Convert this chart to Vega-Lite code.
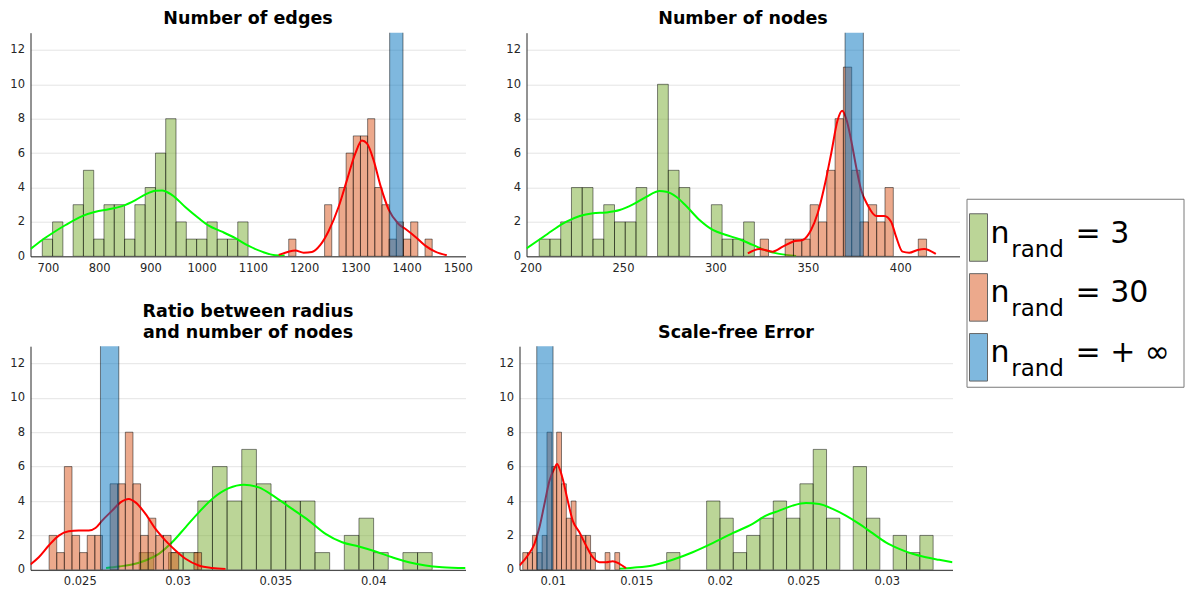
{
 "$schema": "https://vega.github.io/schema/vega-lite/v6.json",
 "background": "white",
 "padding": {"left": 9.5, "top": 9.5, "right": 0, "bottom": 0},
 "config": {
  "font": "DejaVu Sans",
  "view": {"stroke": null},
  "axis": {"labelFont": "DejaVu Sans", "labelFontSize": 11.5, "labelColor": "#262626", "domainColor": "#262626", "domainWidth": 1, "ticks": false, "grid": false, "labelPadding": 6, "gridColor": "#e4e4e4", "labelOverlap": false, "labelExpr": "'' + datum.value"},
  "title": {"font": "DejaVu Sans", "fontSize": 17.5, "fontWeight": "bold", "color": "#000", "offset": 5, "frame": "group", "lineHeight": 21}
 },
 "datasets": {
  "bars": [
   {"p":"edges","s":"3","a":689.0,"b":709.1,"n":1},{"p":"edges","s":"3","a":709.1,"b":729.2,"n":2},{"p":"edges","s":"3","a":749.2,"b":769.3,"n":3},{"p":"edges","s":"3","a":769.3,"b":789.4,"n":5},{"p":"edges","s":"3","a":789.4,"b":809.4,"n":1},{"p":"edges","s":"3","a":809.4,"b":829.5,"n":3},{"p":"edges","s":"3","a":829.5,"b":849.6,"n":3},{"p":"edges","s":"3","a":849.6,"b":869.7,"n":1},{"p":"edges","s":"3","a":869.7,"b":889.8,"n":3},{"p":"edges","s":"3","a":889.8,"b":909.9,"n":4},{"p":"edges","s":"3","a":909.9,"b":929.9,"n":6},{"p":"edges","s":"3","a":929.9,"b":950.0,"n":8},{"p":"edges","s":"3","a":950.0,"b":970.1,"n":2},{"p":"edges","s":"3","a":970.1,"b":990.2,"n":1},{"p":"edges","s":"3","a":990.2,"b":1010.3,"n":1},{"p":"edges","s":"3","a":1010.3,"b":1030.4,"n":2},{"p":"edges","s":"3","a":1030.4,"b":1050.4,"n":1},{"p":"edges","s":"3","a":1050.4,"b":1070.5,"n":1},{"p":"edges","s":"3","a":1070.5,"b":1090.6,"n":2},
   {"p":"edges","s":"30","a":1170,"b":1184,"n":1},{"p":"edges","s":"30","a":1240,"b":1254,"n":3},{"p":"edges","s":"30","a":1268,"b":1282,"n":4},{"p":"edges","s":"30","a":1282,"b":1296,"n":6},{"p":"edges","s":"30","a":1296,"b":1310,"n":7},{"p":"edges","s":"30","a":1310,"b":1324,"n":7},{"p":"edges","s":"30","a":1324,"b":1338,"n":8},{"p":"edges","s":"30","a":1338,"b":1352,"n":4},{"p":"edges","s":"30","a":1352,"b":1366,"n":3},{"p":"edges","s":"30","a":1366,"b":1380,"n":1},{"p":"edges","s":"30","a":1380,"b":1394,"n":2},{"p":"edges","s":"30","a":1394,"b":1408,"n":1},{"p":"edges","s":"30","a":1408,"b":1422,"n":2},{"p":"edges","s":"30","a":1436,"b":1450,"n":1},
   {"p":"edges","s":"inf","a":1367,"b":1393,"n":50},
   {"p":"nodes","s":"3","a":204.66,"b":210.48,"n":1},{"p":"nodes","s":"3","a":210.48,"b":216.30,"n":1},{"p":"nodes","s":"3","a":216.30,"b":222.12,"n":2},{"p":"nodes","s":"3","a":222.12,"b":227.94,"n":4},{"p":"nodes","s":"3","a":227.94,"b":233.76,"n":4},{"p":"nodes","s":"3","a":233.76,"b":239.58,"n":1},{"p":"nodes","s":"3","a":239.58,"b":245.40,"n":3},{"p":"nodes","s":"3","a":245.40,"b":251.22,"n":2},{"p":"nodes","s":"3","a":251.22,"b":257.04,"n":2},{"p":"nodes","s":"3","a":257.04,"b":262.86,"n":4},{"p":"nodes","s":"3","a":268.68,"b":274.50,"n":10},{"p":"nodes","s":"3","a":274.50,"b":280.32,"n":5},{"p":"nodes","s":"3","a":280.32,"b":286.14,"n":4},{"p":"nodes","s":"3","a":297.78,"b":303.60,"n":3},{"p":"nodes","s":"3","a":303.60,"b":309.42,"n":1},{"p":"nodes","s":"3","a":309.42,"b":315.24,"n":1},{"p":"nodes","s":"3","a":315.24,"b":321.06,"n":2},
   {"p":"nodes","s":"30","a":324.2,"b":328.7,"n":1},{"p":"nodes","s":"30","a":337.7,"b":342.2,"n":1},{"p":"nodes","s":"30","a":342.2,"b":346.7,"n":1},{"p":"nodes","s":"30","a":346.7,"b":351.2,"n":1},{"p":"nodes","s":"30","a":351.2,"b":355.7,"n":3},{"p":"nodes","s":"30","a":355.7,"b":360.2,"n":2},{"p":"nodes","s":"30","a":360.2,"b":364.7,"n":5},{"p":"nodes","s":"30","a":364.7,"b":369.2,"n":8},{"p":"nodes","s":"30","a":369.2,"b":373.7,"n":11},{"p":"nodes","s":"30","a":373.7,"b":378.2,"n":5},{"p":"nodes","s":"30","a":378.2,"b":382.7,"n":2},{"p":"nodes","s":"30","a":382.7,"b":387.2,"n":3},{"p":"nodes","s":"30","a":387.2,"b":391.7,"n":2},{"p":"nodes","s":"30","a":391.7,"b":396.2,"n":4},{"p":"nodes","s":"30","a":409.7,"b":414.2,"n":1},
   {"p":"nodes","s":"inf","a":370.1,"b":380.0,"n":50},
   {"p":"ratio","s":"3","a":0.028038,"b":0.028787,"n":1},{"p":"ratio","s":"3","a":0.029536,"b":0.030285,"n":1},{"p":"ratio","s":"3","a":0.030285,"b":0.031034,"n":1},{"p":"ratio","s":"3","a":0.031034,"b":0.031783,"n":4},{"p":"ratio","s":"3","a":0.031783,"b":0.032532,"n":6},{"p":"ratio","s":"3","a":0.032532,"b":0.033281,"n":4},{"p":"ratio","s":"3","a":0.033281,"b":0.03403,"n":7},{"p":"ratio","s":"3","a":0.03403,"b":0.034779,"n":5},{"p":"ratio","s":"3","a":0.034779,"b":0.035528,"n":4},{"p":"ratio","s":"3","a":0.035528,"b":0.036277,"n":4},{"p":"ratio","s":"3","a":0.036277,"b":0.037026,"n":4},{"p":"ratio","s":"3","a":0.037026,"b":0.037775,"n":1},{"p":"ratio","s":"3","a":0.038524,"b":0.039273,"n":2},{"p":"ratio","s":"3","a":0.039273,"b":0.040022,"n":3},{"p":"ratio","s":"3","a":0.040022,"b":0.040771,"n":1},{"p":"ratio","s":"3","a":0.04152,"b":0.042269,"n":1},{"p":"ratio","s":"3","a":0.042269,"b":0.043018,"n":1},
   {"p":"ratio","s":"30","a":0.023432,"b":0.023822,"n":2},{"p":"ratio","s":"30","a":0.023822,"b":0.024211,"n":1},{"p":"ratio","s":"30","a":0.024211,"b":0.024601,"n":6},{"p":"ratio","s":"30","a":0.024601,"b":0.024991,"n":2},{"p":"ratio","s":"30","a":0.024991,"b":0.025381,"n":1},{"p":"ratio","s":"30","a":0.025381,"b":0.02577,"n":2},{"p":"ratio","s":"30","a":0.02577,"b":0.02616,"n":2},{"p":"ratio","s":"30","a":0.02655,"b":0.026939,"n":5},{"p":"ratio","s":"30","a":0.026939,"b":0.027329,"n":5},{"p":"ratio","s":"30","a":0.027329,"b":0.027719,"n":8},{"p":"ratio","s":"30","a":0.027719,"b":0.028109,"n":5},{"p":"ratio","s":"30","a":0.028109,"b":0.028498,"n":2},{"p":"ratio","s":"30","a":0.028498,"b":0.028888,"n":3},{"p":"ratio","s":"30","a":0.028888,"b":0.029278,"n":2},{"p":"ratio","s":"30","a":0.029278,"b":0.029667,"n":2},{"p":"ratio","s":"30","a":0.029667,"b":0.030057,"n":1},{"p":"ratio","s":"30","a":0.030836,"b":0.031226,"n":1},
   {"p":"ratio","s":"inf","a":0.026057,"b":0.026995,"n":50},
   {"p":"sfe","s":"3","a":0.016819,"b":0.017617,"n":1},{"p":"sfe","s":"3","a":0.019212,"b":0.02001,"n":4},{"p":"sfe","s":"3","a":0.02001,"b":0.020807,"n":3},{"p":"sfe","s":"3","a":0.020807,"b":0.021605,"n":1},{"p":"sfe","s":"3","a":0.021605,"b":0.022402,"n":2},{"p":"sfe","s":"3","a":0.022402,"b":0.0232,"n":3},{"p":"sfe","s":"3","a":0.0232,"b":0.023998,"n":4},{"p":"sfe","s":"3","a":0.023998,"b":0.024795,"n":3},{"p":"sfe","s":"3","a":0.024795,"b":0.025593,"n":5},{"p":"sfe","s":"3","a":0.025593,"b":0.02639,"n":7},{"p":"sfe","s":"3","a":0.02639,"b":0.027188,"n":3},{"p":"sfe","s":"3","a":0.027986,"b":0.028783,"n":6},{"p":"sfe","s":"3","a":0.028783,"b":0.029581,"n":3},{"p":"sfe","s":"3","a":0.030378,"b":0.031176,"n":2},{"p":"sfe","s":"3","a":0.031176,"b":0.031974,"n":1},{"p":"sfe","s":"3","a":0.031974,"b":0.032771,"n":2},
   {"p":"sfe","s":"30","a":0.008205,"b":0.008495,"n":1},{"p":"sfe","s":"30","a":0.008495,"b":0.008785,"n":1},{"p":"sfe","s":"30","a":0.008785,"b":0.009075,"n":2},{"p":"sfe","s":"30","a":0.009075,"b":0.009365,"n":1},{"p":"sfe","s":"30","a":0.009365,"b":0.009655,"n":2},{"p":"sfe","s":"30","a":0.009655,"b":0.009945,"n":8},{"p":"sfe","s":"30","a":0.009945,"b":0.010235,"n":6},{"p":"sfe","s":"30","a":0.010235,"b":0.010525,"n":8},{"p":"sfe","s":"30","a":0.010525,"b":0.010815,"n":5},{"p":"sfe","s":"30","a":0.010815,"b":0.011105,"n":3},{"p":"sfe","s":"30","a":0.011105,"b":0.011395,"n":4},{"p":"sfe","s":"30","a":0.011395,"b":0.011685,"n":2},{"p":"sfe","s":"30","a":0.011685,"b":0.011975,"n":2},{"p":"sfe","s":"30","a":0.011975,"b":0.012265,"n":2},{"p":"sfe","s":"30","a":0.012265,"b":0.012555,"n":1},{"p":"sfe","s":"30","a":0.013135,"b":0.013425,"n":1},{"p":"sfe","s":"30","a":0.013715,"b":0.014005,"n":1},
   {"p":"sfe","s":"inf","a":0.009043,"b":0.010018,"n":50}
  ],
  "kde": [
   {"p":"edges","s":"3","a":666.3,"n":0.43},{"p":"edges","s":"3","a":689,"n":0.95},{"p":"edges","s":"3","a":708.4,"n":1.34},{"p":"edges","s":"3","a":734.4,"n":1.82},{"p":"edges","s":"3","a":766.9,"n":2.34},{"p":"edges","s":"3","a":793,"n":2.59},{"p":"edges","s":"3","a":818.9,"n":2.73},{"p":"edges","s":"3","a":844.9,"n":2.92},{"p":"edges","s":"3","a":870.9,"n":3.27},{"p":"edges","s":"3","a":890.4,"n":3.6},{"p":"edges","s":"3","a":910,"n":3.81},{"p":"edges","s":"3","a":922.9,"n":3.83},{"p":"edges","s":"3","a":942.4,"n":3.56},{"p":"edges","s":"3","a":968.5,"n":2.85},{"p":"edges","s":"3","a":994.4,"n":2.21},{"p":"edges","s":"3","a":1013.9,"n":1.78},{"p":"edges","s":"3","a":1039.8,"n":1.43},{"p":"edges","s":"3","a":1065.9,"n":1.05},{"p":"edges","s":"3","a":1091.9,"n":0.6},{"p":"edges","s":"3","a":1117.8,"n":0.27},{"p":"edges","s":"3","a":1143.8,"n":0.06},{"p":"edges","s":"3","a":1162,"n":0.04},
   {"p":"edges","s":"30","a":1150.4,"n":0.08},{"p":"edges","s":"30","a":1169.9,"n":0.27},{"p":"edges","s":"30","a":1183,"n":0.33},{"p":"edges","s":"30","a":1199.1,"n":0.21},{"p":"edges","s":"30","a":1215.3,"n":0.25},{"p":"edges","s":"30","a":1231.7,"n":0.66},{"p":"edges","s":"30","a":1247.9,"n":1.47},{"p":"edges","s":"30","a":1267.4,"n":2.88},{"p":"edges","s":"30","a":1283.6,"n":4.43},{"p":"edges","s":"30","a":1300,"n":5.98},{"p":"edges","s":"30","a":1312.8,"n":6.73},{"p":"edges","s":"30","a":1322.6,"n":6.56},{"p":"edges","s":"30","a":1335.6,"n":5.59},{"p":"edges","s":"30","a":1348.7,"n":4.14},{"p":"edges","s":"30","a":1364.9,"n":2.73},{"p":"edges","s":"30","a":1384.3,"n":1.88},{"p":"edges","s":"30","a":1400.5,"n":1.53},{"p":"edges","s":"30","a":1416.9,"n":1.14},{"p":"edges","s":"30","a":1436.4,"n":0.62},{"p":"edges","s":"30","a":1455.9,"n":0.27},{"p":"edges","s":"30","a":1478.5,"n":0.06},
   {"p":"nodes","s":"3","a":197.8,"n":0.46},{"p":"nodes","s":"3","a":205,"n":0.99},{"p":"nodes","s":"3","a":212.2,"n":1.53},{"p":"nodes","s":"3","a":219.4,"n":2.01},{"p":"nodes","s":"3","a":226.6,"n":2.34},{"p":"nodes","s":"3","a":233.8,"n":2.5},{"p":"nodes","s":"3","a":241,"n":2.55},{"p":"nodes","s":"3","a":248.2,"n":2.69},{"p":"nodes","s":"3","a":255.4,"n":3.02},{"p":"nodes","s":"3","a":262.6,"n":3.46},{"p":"nodes","s":"3","a":269.8,"n":3.79},{"p":"nodes","s":"3","a":273.4,"n":3.75},{"p":"nodes","s":"3","a":278.8,"n":3.46},{"p":"nodes","s":"3","a":284.2,"n":2.92},{"p":"nodes","s":"3","a":291.4,"n":2.11},{"p":"nodes","s":"3","a":298.6,"n":1.53},{"p":"nodes","s":"3","a":305.8,"n":1.24},{"p":"nodes","s":"3","a":313,"n":0.99},{"p":"nodes","s":"3","a":320.2,"n":0.66},{"p":"nodes","s":"3","a":327.4,"n":0.33},{"p":"nodes","s":"3","a":334.6,"n":0.14},{"p":"nodes","s":"3","a":343.6,"n":0.02},
   {"p":"nodes","s":"30","a":317.5,"n":0.17},{"p":"nodes","s":"30","a":323.8,"n":0.43},{"p":"nodes","s":"30","a":331,"n":0.27},{"p":"nodes","s":"30","a":336.4,"n":0.56},{"p":"nodes","s":"30","a":341.8,"n":0.85},{"p":"nodes","s":"30","a":347.2,"n":0.95},{"p":"nodes","s":"30","a":351.7,"n":1.53},{"p":"nodes","s":"30","a":355.3,"n":2.5},{"p":"nodes","s":"30","a":358.9,"n":4.04},{"p":"nodes","s":"30","a":362.6,"n":5.98},{"p":"nodes","s":"30","a":366.1,"n":7.92},{"p":"nodes","s":"30","a":368.5,"n":8.46},{"p":"nodes","s":"30","a":370.7,"n":8.01},{"p":"nodes","s":"30","a":373.4,"n":6.75},{"p":"nodes","s":"30","a":376.1,"n":5.2},{"p":"nodes","s":"30","a":378.8,"n":3.85},{"p":"nodes","s":"30","a":382.3,"n":2.98},{"p":"nodes","s":"30","a":386.9,"n":2.34},{"p":"nodes","s":"30","a":391.3,"n":2.34},{"p":"nodes","s":"30","a":395,"n":2.01},{"p":"nodes","s":"30","a":397.7,"n":1.14},{"p":"nodes","s":"30","a":401.2,"n":0.27},{"p":"nodes","s":"30","a":404.8,"n":0.21},{"p":"nodes","s":"30","a":409.3,"n":0.37},{"p":"nodes","s":"30","a":412.9,"n":0.43},{"p":"nodes","s":"30","a":419.2,"n":0.14},
   {"p":"ratio","s":"3","a":0.026345,"n":0.1},{"p":"ratio","s":"3","a":0.026994,"n":0.19},{"p":"ratio","s":"3","a":0.027675,"n":0.31},{"p":"ratio","s":"3","a":0.02836,"n":0.54},{"p":"ratio","s":"3","a":0.02904,"n":0.93},{"p":"ratio","s":"3","a":0.02972,"n":1.6},{"p":"ratio","s":"3","a":0.030405,"n":2.47},{"p":"ratio","s":"3","a":0.031085,"n":3.34},{"p":"ratio","s":"3","a":0.031766,"n":4.12},{"p":"ratio","s":"3","a":0.032619,"n":4.75},{"p":"ratio","s":"3","a":0.033387,"n":4.95},{"p":"ratio","s":"3","a":0.034154,"n":4.79},{"p":"ratio","s":"3","a":0.035008,"n":4.21},{"p":"ratio","s":"3","a":0.035857,"n":3.54},{"p":"ratio","s":"3","a":0.03671,"n":2.86},{"p":"ratio","s":"3","a":0.037565,"n":2.09},{"p":"ratio","s":"3","a":0.038413,"n":1.6},{"p":"ratio","s":"3","a":0.039268,"n":1.35},{"p":"ratio","s":"3","a":0.040122,"n":1.06},{"p":"ratio","s":"3","a":0.04097,"n":0.73},{"p":"ratio","s":"3","a":0.041825,"n":0.44},{"p":"ratio","s":"3","a":0.042678,"n":0.25},{"p":"ratio","s":"3","a":0.043527,"n":0.15},{"p":"ratio","s":"3","a":0.044724,"n":0.1},
   {"p":"ratio","s":"30","a":0.022477,"n":0.31},{"p":"ratio","s":"30","a":0.022903,"n":0.73},{"p":"ratio","s":"30","a":0.023415,"n":1.41},{"p":"ratio","s":"30","a":0.023926,"n":1.99},{"p":"ratio","s":"30","a":0.024437,"n":2.24},{"p":"ratio","s":"30","a":0.024949,"n":2.28},{"p":"ratio","s":"30","a":0.02546,"n":2.28},{"p":"ratio","s":"30","a":0.025801,"n":2.43},{"p":"ratio","s":"30","a":0.026141,"n":2.86},{"p":"ratio","s":"30","a":0.026653,"n":3.44},{"p":"ratio","s":"30","a":0.027081,"n":3.92},{"p":"ratio","s":"30","a":0.027506,"n":4.12},{"p":"ratio","s":"30","a":0.027848,"n":3.92},{"p":"ratio","s":"30","a":0.02836,"n":3.25},{"p":"ratio","s":"30","a":0.028871,"n":2.38},{"p":"ratio","s":"30","a":0.029383,"n":1.7},{"p":"ratio","s":"30","a":0.029894,"n":1.12},{"p":"ratio","s":"30","a":0.030405,"n":0.64},{"p":"ratio","s":"30","a":0.031085,"n":0.25},{"p":"ratio","s":"30","a":0.031766,"n":0.1},{"p":"ratio","s":"30","a":0.032451,"n":0.04},
   {"p":"sfe","s":"3","a":0.01399,"n":0.06},{"p":"sfe","s":"3","a":0.014786,"n":0.12},{"p":"sfe","s":"3","a":0.015982,"n":0.25},{"p":"sfe","s":"3","a":0.017178,"n":0.58},{"p":"sfe","s":"3","a":0.018375,"n":1.02},{"p":"sfe","s":"3","a":0.019571,"n":1.55},{"p":"sfe","s":"3","a":0.020768,"n":2.13},{"p":"sfe","s":"3","a":0.021964,"n":2.67},{"p":"sfe","s":"3","a":0.02276,"n":3.15},{"p":"sfe","s":"3","a":0.023561,"n":3.44},{"p":"sfe","s":"3","a":0.024357,"n":3.73},{"p":"sfe","s":"3","a":0.025152,"n":3.88},{"p":"sfe","s":"3","a":0.025954,"n":3.83},{"p":"sfe","s":"3","a":0.026749,"n":3.54},{"p":"sfe","s":"3","a":0.027545,"n":3.15},{"p":"sfe","s":"3","a":0.028347,"n":2.67},{"p":"sfe","s":"3","a":0.029142,"n":2.13},{"p":"sfe","s":"3","a":0.029938,"n":1.6},{"p":"sfe","s":"3","a":0.03074,"n":1.22},{"p":"sfe","s":"3","a":0.031535,"n":0.93},{"p":"sfe","s":"3","a":0.032331,"n":0.73},{"p":"sfe","s":"3","a":0.033133,"n":0.58},{"p":"sfe","s":"3","a":0.033928,"n":0.44},
   {"p":"sfe","s":"30","a":0.00801,"n":0.25},{"p":"sfe","s":"30","a":0.008505,"n":0.83},{"p":"sfe","s":"30","a":0.008905,"n":1.51},{"p":"sfe","s":"30","a":0.009204,"n":2.47},{"p":"sfe","s":"30","a":0.009504,"n":3.83},{"p":"sfe","s":"30","a":0.009803,"n":5.18},{"p":"sfe","s":"30","a":0.010102,"n":5.9},{"p":"sfe","s":"30","a":0.010257,"n":6.15},{"p":"sfe","s":"30","a":0.01042,"n":5.85},{"p":"sfe","s":"30","a":0.010598,"n":5.28},{"p":"sfe","s":"30","a":0.010897,"n":4.02},{"p":"sfe","s":"30","a":0.011196,"n":2.86},{"p":"sfe","s":"30","a":0.011597,"n":2.18},{"p":"sfe","s":"30","a":0.011992,"n":1.41},{"p":"sfe","s":"30","a":0.012393,"n":0.73},{"p":"sfe","s":"30","a":0.012793,"n":0.44},{"p":"sfe","s":"30","a":0.013191,"n":0.44},{"p":"sfe","s":"30","a":0.013589,"n":0.5},{"p":"sfe","s":"30","a":0.01399,"n":0.35},{"p":"sfe","s":"30","a":0.014385,"n":0.1}
  ],
  "legend": [{"s":"3","lab":"= 3"},{"s":"30","lab":"= 30"},{"s":"inf","lab":"= + ∞"}]
 },
 "hconcat": [
  {"vconcat": [
   {"hconcat": [
    {"width": 435, "height": 223.6, "title": {"text": "Number of edges"},
     "encoding": {"x": {"field": "a", "type": "quantitative", "title": null, "scale": {"domain": [666, 1515], "nice": false, "zero": false}, "axis": {"values": [700,800,900,1000,1100,1200,1300,1400,1500]}}, "y": {"field": "n", "type": "quantitative", "title": null, "scale": {"domain": [0, 13], "nice": false}, "axis": {"values": [0,2,4,6,8,10,12], "grid": true}}},
     "layer": [
      {"data": {"name": "bars"}, "transform": [{"filter": "datum.p=='edges' && datum.s=='3'"}], "mark": {"type": "rect", "fill": "#77AC30", "fillOpacity": 0.5, "stroke": "#000", "strokeOpacity": 0.6, "strokeWidth": 0.8, "clip": true}, "encoding": {"x2": {"field": "b"}, "y2": {"datum": 0}}},
      {"data": {"name": "kde"}, "transform": [{"filter": "datum.p=='edges' && datum.s=='3'"}], "mark": {"type": "line", "color": "#00ff00", "strokeWidth": 2, "interpolate": "monotone", "clip": true}},
      {"data": {"name": "bars"}, "transform": [{"filter": "datum.p=='edges' && datum.s=='30'"}], "mark": {"type": "rect", "fill": "#D95319", "fillOpacity": 0.5, "stroke": "#000", "strokeOpacity": 0.6, "strokeWidth": 0.8, "clip": true}, "encoding": {"x2": {"field": "b"}, "y2": {"datum": 0}}},
      {"data": {"name": "kde"}, "transform": [{"filter": "datum.p=='edges' && datum.s=='30'"}], "mark": {"type": "line", "color": "#ff0000", "strokeWidth": 2, "interpolate": "monotone", "clip": true}},
      {"data": {"name": "bars"}, "transform": [{"filter": "datum.p=='edges' && datum.s=='inf'"}], "mark": {"type": "rect", "fill": "#0072BD", "fillOpacity": 0.5, "stroke": "#000", "strokeOpacity": 0.6, "strokeWidth": 0.8, "clip": true}, "encoding": {"x2": {"field": "b"}, "y2": {"datum": 0}}}
     ]},
    {"width": 433, "height": 223.6, "title": {"text": "Number of nodes"},
     "encoding": {"x": {"field": "a", "type": "quantitative", "title": null, "scale": {"domain": [197.8, 432], "nice": false, "zero": false}, "axis": {"values": [200,250,300,350,400]}}, "y": {"field": "n", "type": "quantitative", "title": null, "scale": {"domain": [0, 13], "nice": false}, "axis": {"values": [0,2,4,6,8,10,12], "grid": true}}},
     "layer": [
      {"data": {"name": "bars"}, "transform": [{"filter": "datum.p=='nodes' && datum.s=='3'"}], "mark": {"type": "rect", "fill": "#77AC30", "fillOpacity": 0.5, "stroke": "#000", "strokeOpacity": 0.6, "strokeWidth": 0.8, "clip": true}, "encoding": {"x2": {"field": "b"}, "y2": {"datum": 0}}},
      {"data": {"name": "kde"}, "transform": [{"filter": "datum.p=='nodes' && datum.s=='3'"}], "mark": {"type": "line", "color": "#00ff00", "strokeWidth": 2, "interpolate": "monotone", "clip": true}},
      {"data": {"name": "bars"}, "transform": [{"filter": "datum.p=='nodes' && datum.s=='30'"}], "mark": {"type": "rect", "fill": "#D95319", "fillOpacity": 0.5, "stroke": "#000", "strokeOpacity": 0.6, "strokeWidth": 0.8, "clip": true}, "encoding": {"x2": {"field": "b"}, "y2": {"datum": 0}}},
      {"data": {"name": "kde"}, "transform": [{"filter": "datum.p=='nodes' && datum.s=='30'"}], "mark": {"type": "line", "color": "#ff0000", "strokeWidth": 2, "interpolate": "monotone", "clip": true}},
      {"data": {"name": "bars"}, "transform": [{"filter": "datum.p=='nodes' && datum.s=='inf'"}], "mark": {"type": "rect", "fill": "#0072BD", "fillOpacity": 0.5, "stroke": "#000", "strokeOpacity": 0.6, "strokeWidth": 0.8, "clip": true}, "encoding": {"x2": {"field": "b"}, "y2": {"datum": 0}}}
     ]}
   ], "spacing": 33},
   {"hconcat": [
    {"width": 435, "height": 223.6, "title": {"text": ["Ratio between radius", " and number of nodes"]},
     "encoding": {"x": {"field": "a", "type": "quantitative", "title": null, "scale": {"domain": [0.02248, 0.04472], "nice": false, "zero": false}, "axis": {"values": [0.025,0.03,0.035,0.04]}}, "y": {"field": "n", "type": "quantitative", "title": null, "scale": {"domain": [0, 13], "nice": false}, "axis": {"values": [0,2,4,6,8,10,12], "grid": true}}},
     "layer": [
      {"data": {"name": "bars"}, "transform": [{"filter": "datum.p=='ratio' && datum.s=='3'"}], "mark": {"type": "rect", "fill": "#77AC30", "fillOpacity": 0.5, "stroke": "#000", "strokeOpacity": 0.6, "strokeWidth": 0.8, "clip": true}, "encoding": {"x2": {"field": "b"}, "y2": {"datum": 0}}},
      {"data": {"name": "kde"}, "transform": [{"filter": "datum.p=='ratio' && datum.s=='3'"}], "mark": {"type": "line", "color": "#00ff00", "strokeWidth": 2, "interpolate": "monotone", "clip": true}},
      {"data": {"name": "bars"}, "transform": [{"filter": "datum.p=='ratio' && datum.s=='30'"}], "mark": {"type": "rect", "fill": "#D95319", "fillOpacity": 0.5, "stroke": "#000", "strokeOpacity": 0.6, "strokeWidth": 0.8, "clip": true}, "encoding": {"x2": {"field": "b"}, "y2": {"datum": 0}}},
      {"data": {"name": "kde"}, "transform": [{"filter": "datum.p=='ratio' && datum.s=='30'"}], "mark": {"type": "line", "color": "#ff0000", "strokeWidth": 2, "interpolate": "monotone", "clip": true}},
      {"data": {"name": "bars"}, "transform": [{"filter": "datum.p=='ratio' && datum.s=='inf'"}], "mark": {"type": "rect", "fill": "#0072BD", "fillOpacity": 0.5, "stroke": "#000", "strokeOpacity": 0.6, "strokeWidth": 0.8, "clip": true}, "encoding": {"x2": {"field": "b"}, "y2": {"datum": 0}}}
     ]},
    {"width": 433, "height": 223.6, "title": {"text": "Scale-free Error"},
     "encoding": {"x": {"field": "a", "type": "quantitative", "title": null, "scale": {"domain": [0.00801, 0.03393], "nice": false, "zero": false}, "axis": {"values": [0.01,0.015,0.02,0.025,0.03]}}, "y": {"field": "n", "type": "quantitative", "title": null, "scale": {"domain": [0, 13], "nice": false}, "axis": {"values": [0,2,4,6,8,10,12], "grid": true}}},
     "layer": [
      {"data": {"name": "bars"}, "transform": [{"filter": "datum.p=='sfe' && datum.s=='3'"}], "mark": {"type": "rect", "fill": "#77AC30", "fillOpacity": 0.5, "stroke": "#000", "strokeOpacity": 0.6, "strokeWidth": 0.8, "clip": true}, "encoding": {"x2": {"field": "b"}, "y2": {"datum": 0}}},
      {"data": {"name": "kde"}, "transform": [{"filter": "datum.p=='sfe' && datum.s=='3'"}], "mark": {"type": "line", "color": "#00ff00", "strokeWidth": 2, "interpolate": "monotone", "clip": true}},
      {"data": {"name": "bars"}, "transform": [{"filter": "datum.p=='sfe' && datum.s=='30'"}], "mark": {"type": "rect", "fill": "#D95319", "fillOpacity": 0.5, "stroke": "#000", "strokeOpacity": 0.6, "strokeWidth": 0.8, "clip": true}, "encoding": {"x2": {"field": "b"}, "y2": {"datum": 0}}},
      {"data": {"name": "kde"}, "transform": [{"filter": "datum.p=='sfe' && datum.s=='30'"}], "mark": {"type": "line", "color": "#ff0000", "strokeWidth": 2, "interpolate": "monotone", "clip": true}},
      {"data": {"name": "bars"}, "transform": [{"filter": "datum.p=='sfe' && datum.s=='inf'"}], "mark": {"type": "rect", "fill": "#0072BD", "fillOpacity": 0.5, "stroke": "#000", "strokeOpacity": 0.6, "strokeWidth": 0.8, "clip": true}, "encoding": {"x2": {"field": "b"}, "y2": {"datum": 0}}}
     ]}
   ], "spacing": 33}
  ], "spacing": 27.5},
  {"width": 217, "height": 188,
   "title": {"text": " ", "orient": "bottom", "fontSize": 30, "offset": 4},
   "view": {"stroke": "#7a7a7a", "strokeWidth": 1},
   "data": {"name": "legend"},
   "encoding": {"y": {"field": "s", "type": "nominal", "title": null, "axis": null, "scale": {"domain": ["3","30","inf"], "paddingInner": 0.207, "paddingOuter": 0.173, "align": 0.725}}},
   "layer": [
    {"mark": {"type": "rect", "fillOpacity": 0.5, "stroke": "#666", "strokeWidth": 1}, "encoding": {"x": {"value": 3}, "x2": {"value": 21}, "fill": {"field": "s", "type": "nominal", "legend": null, "scale": {"domain": ["3","30","inf"], "range": ["#77AC30","#D95319","#0072BD"]}}}},
    {"mark": {"type": "text", "text": "n", "fontSize": 30, "align": "left", "baseline": "alphabetic", "dy": 5, "color": "#000"}, "encoding": {"x": {"value": 24}}},
    {"mark": {"type": "text", "text": "rand", "fontSize": 23, "align": "left", "baseline": "alphabetic", "dy": 19, "color": "#000"}, "encoding": {"x": {"value": 44.7}}},
    {"mark": {"type": "text", "fontSize": 30, "align": "left", "baseline": "alphabetic", "dy": 5, "color": "#000"}, "encoding": {"x": {"value": 109}, "text": {"field": "lab"}}}
   ]}
 ],
 "spacing": 6, "center": true
}
